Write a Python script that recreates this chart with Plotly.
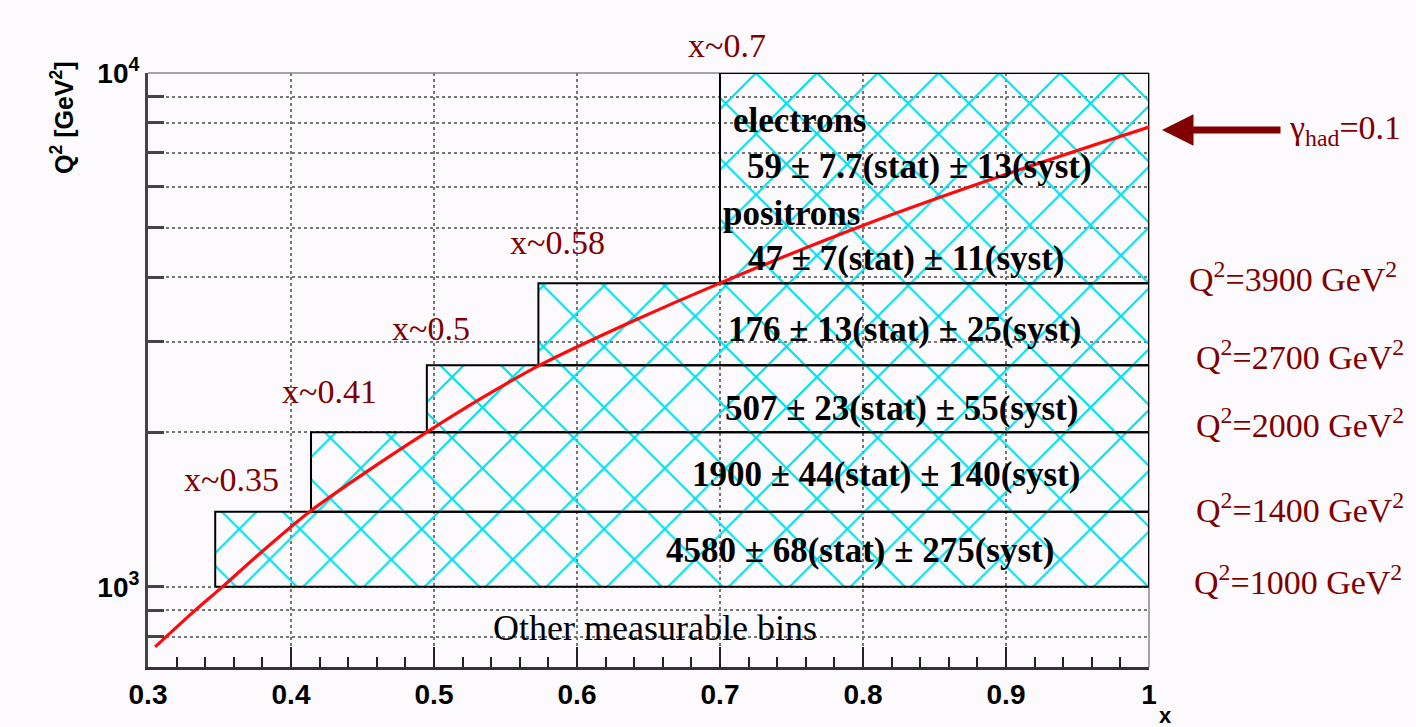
import plotly.graph_objects as go

# Bins in (x, Q^2): lower x edge, lower / upper Q^2 edge, upper x edge is 1
bin_x_low = [0.347, 0.414, 0.495, 0.573, 0.700]
bin_q2_low = [1000, 1400, 2000, 2700, 3900]
bin_q2_high = [1400, 2000, 2700, 3900, 10000]
bin_x_high = 1.0

# Event counts per bin
bin_text = [
    "4580 ± 68(stat) ± 275(syst)",
    "1900 ± 44(stat) ± 140(syst)",
    "507 ± 23(stat) ± 55(syst)",
    "176 ± 13(stat) ± 25(syst)",
]
electron_text = "59 ± 7.7(stat) ± 13(syst)"
positron_text = "47 ± 7(stat) ± 11(syst)"
x_labels = ["x~0.35", "x~0.41", "x~0.5", "x~0.58", "x~0.7"]
q2_labels = [1000, 1400, 2000, 2700, 3900]

# gamma_had = 0.1 line
curve_x = [0.305, 0.33, 0.352, 0.378, 0.413, 0.454, 0.495, 0.535, 0.574, 0.635, 0.70, 0.80, 0.90, 1.0]
curve_q2 = [764, 885, 1000, 1160, 1400, 1683, 2000, 2344, 2700, 3250, 3900, 5050, 6350, 7850]

# Axis ticks
y_tickvals = [800, 900, 1000, 2000, 3000, 4000, 5000, 6000, 7000, 8000, 9000, 10000]
y_ticktext = ["", "", "10<sup>3</sup>", "", "", "", "", "", "", "", "", "10<sup>4</sup>"]

W, H = 1416, 727
L, R, T, B = 148, 1149, 73, 667

def paper(xp, yp):
    return (xp - L) / (R - L), (B - yp) / (B - T)

DARKRED = "#800000"
CYAN = "#00e0ee"
SERIF = "Liberation Serif"
SANS = "Liberation Sans"
BG = "#fdfafd"

fig = go.Figure()

for xl, ql, qh in zip(bin_x_low, bin_q2_low, bin_q2_high):
    fig.add_trace(go.Scatter(
        x=[xl, bin_x_high, bin_x_high, xl, xl],
        y=[ql, ql, qh, qh, ql],
        mode="lines", fill="toself",
        fillcolor="rgba(0,0,0,0)",
        fillpattern=dict(shape="x", size=43, solidity=0.1, fgcolor=CYAN, fgopacity=1),
        line=dict(color="black", width=2),
        showlegend=False, hoverinfo="skip",
    ))

fig.add_trace(go.Scatter(
    x=curve_x, y=curve_q2, mode="lines",
    line=dict(color="#ff0a0a", width=3.2, shape="spline", smoothing=0.8),
    showlegend=False, hoverinfo="skip",
))

ann = []

def text(xp, yp, s, size=34, color="black", bold=False, family=SERIF, xanchor="center"):
    px_, py_ = paper(xp, yp)
    ann.append(dict(x=px_, y=py_, xref="paper", yref="paper", text=(f"<b>{s}</b>" if bold else s),
                    showarrow=False, xanchor=xanchor, yanchor="middle",
                    font=dict(family=family, size=size, color=color)))

# x labels along the line
for s, (xp, yp) in zip(x_labels, [(231, 480), (329, 392), (431, 328), (557, 242), (727, 45)]):
    text(xp, yp, s, color=DARKRED)

# bin contents
STAT = 35
for s, (xp, yp) in zip(bin_text, [(860, 550), (886, 474), (901, 408), (904, 329)]):
    text(xp, yp, s, size=STAT, bold=True)
text(799, 121, "electrons", size=STAT, bold=True)
text(919, 167, electron_text, size=STAT, bold=True)
text(791, 213, "positrons", size=STAT, bold=True)
text(906, 258, positron_text, size=STAT, bold=True)
text(655, 628, "Other measurable bins", size=36)

# Q^2 boundaries on the right
for q, (xp, yp) in zip(q2_labels, [(1298, 580), (1300, 508), (1300, 423), (1300, 355), (1293, 277)]):
    text(xp, yp, f"Q<sup>2</sup>={q} GeV<sup>2</sup>", color=DARKRED)

# gamma_had arrow and label
text(1345, 130, "γ<sub>had</sub>=0.1", color=DARKRED)
ax_, ay_ = paper(1162, 130)
ann.append(dict(x=ax_, y=ay_, xref="paper", yref="paper", text="", showarrow=True,
                ax=120, ay=0, arrowhead=2, arrowsize=0.9, arrowwidth=7, arrowcolor=DARKRED))

# axis titles
text(1165, 716, "x", size=22, bold=True, family=SANS)
tx, ty = paper(62, 118)
ann.append(dict(x=tx, y=ty, xref="paper", yref="paper", text="<b>Q<sup>2</sup> [GeV<sup>2</sup>]</b>",
                showarrow=False, textangle=-90, xanchor="center", yanchor="middle",
                font=dict(family=SANS, size=25, color="black")))

fig.update_layout(
    width=W, height=H,
    margin=dict(l=L, r=W - R, t=T, b=H - B),
    paper_bgcolor=BG, plot_bgcolor=BG,
    annotations=ann,
    hovermode=False,
    shapes=[
        dict(type="line", xref="paper", yref="paper", x0=0, x1=1, y0=1, y1=1,
             line=dict(color="#888", width=1.5), layer="below"),
        dict(type="line", xref="paper", yref="paper", x0=1, x1=1, y0=0, y1=1,
             line=dict(color="#888", width=1.5), layer="below"),
    ],
    xaxis=dict(
        range=[0.3, 1.0], dtick=0.1, tick0=0.3, tickformat=".1~f",
        ticks="inside", ticklen=20, tickwidth=2, tickcolor="#222",
        minor=dict(dtick=0.02, ticks="inside", ticklen=10, tickwidth=2, tickcolor="#222", showgrid=False),
        showgrid=True, griddash="dot", gridcolor="#777", gridwidth=1.5,
        showline=True, linecolor="#333", linewidth=3,
        tickfont=dict(family=SANS, size=28, color="black", weight="bold"),
        zeroline=False,
    ),
    yaxis=dict(
        type="log", range=[2.844, 4.0],
        tickvals=y_tickvals, ticktext=y_ticktext,
        ticks="inside", ticklen=16, tickwidth=2.5, tickcolor="#444",
        showgrid=True, griddash="dot", gridcolor="#777", gridwidth=1.5,
        showline=True, linecolor="#444", linewidth=3,
        tickfont=dict(family=SANS, size=28, color="black", weight="bold"),
        zeroline=False,
    ),
)

fig.write_html("out.html")
